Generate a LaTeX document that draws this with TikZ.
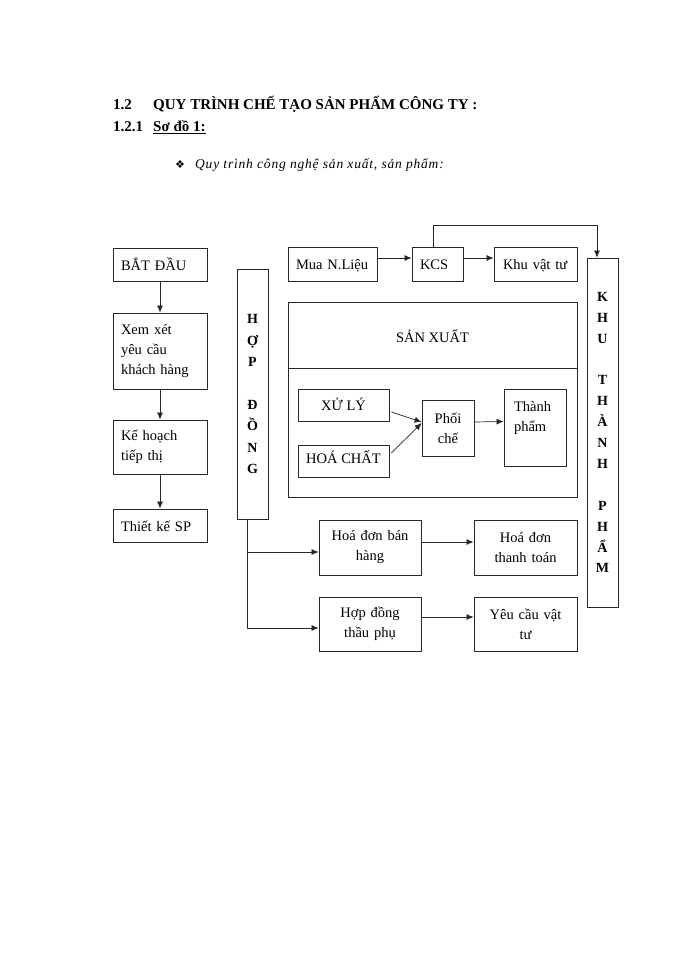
\documentclass[tikz,border=0pt]{standalone}
\usepackage{fontspec}
\setmainfont{Liberation Serif}
\newfontfamily\symfont{DejaVu Sans}
\usetikzlibrary{arrows.meta}
\begin{document}
\begin{tikzpicture}[x=1pt,y=-1pt,
  box/.style={draw=black!85, line width=0.8pt, inner sep=0pt, font=\fontsize{14.5}{20}\selectfont},
  lbox/.style={box, align=left},
  cbox/.style={box, align=center},
  one/.style={text height=13pt, text depth=2pt},
  arr/.style={draw=black!85, line width=0.7pt, -{Latex[length=7pt,width=6pt]}},
  vcol/.style={box, align=center, font=\fontsize{14}{#1}\selectfont\bfseries},
  head/.style={anchor=base west, inner sep=0pt, font=\fontsize{15}{18}\selectfont\bfseries}]
\useasboundingbox (0,0) rectangle (700,960);
\fill[white] (0,0) rectangle (700,960);

% header
\node[head] (n12) at (113,110) {1.2};
\node[head] (t12) at (153,110) {QUY TRÌNH CHẾ TẠO SẢN PHẨM CÔNG TY :};
\node[head] (n121) at (113,132) {1.2.1};
\node[head] (t121) at (153,132) {\underline{Sơ đồ 1:}};
\node[anchor=base west, inner sep=0pt, font=\symfont\fontsize{11}{13}\selectfont] (bul) at (175,169) {❖};
\node[anchor=base west, inner sep=0pt, font=\fontsize{13.5}{16}\selectfont\itshape\addfontfeatures{LetterSpace=6}] (sub) at (195,169) {Quy trình công nghệ sản xuất, sản phẩm:};

% left column
\node[lbox, one, minimum width=94pt, minimum height=33pt, text width=78pt] (start) at (160,264.5) {BẮT ĐẦU};
\node[lbox, minimum width=94pt, minimum height=76pt, text width=78pt] (xem) at (160,351) {Xem xét\\yêu cầu\\khách hàng};
\node[lbox, minimum width=94pt, minimum height=54pt, text width=78pt] (kh) at (160,447) {Kế hoạch\\tiếp thị};
\node[lbox, one, minimum width=94pt, minimum height=33pt, text width=78pt] (tk) at (160,525.5) {Thiết kế SP};

% HOP DONG column
\node[vcol=21.4, minimum width=31pt, minimum height=250pt] (hop) at (252.5,394) {H\\Ợ\\P\\\strut\\Đ\\Ồ\\N\\G};

% top row
\node[lbox, one, minimum width=89pt, minimum height=34pt, text width=73pt] (mua) at (332.5,264) {Mua N.Liệu};
\node[lbox, one, minimum width=51pt, minimum height=34pt, text width=35pt] (kcs) at (437.5,264) {KCS};
\node[lbox, one, minimum width=83pt, minimum height=34pt, text width=65pt] (kvt) at (535.5,264) {Khu vật tư};

% KHU THANH PHAM column
\node[vcol=20.9, minimum width=31pt, minimum height=349pt] (ktp) at (602.5,432.5) {K\\H\\U\\\strut\\T\\H\\À\\N\\H\\\strut\\P\\H\\Ẩ\\M};

% SAN XUAT block
\node[box, minimum width=289pt, minimum height=195pt] (sx) at (432.5,399.5) {};
\node[cbox, minimum width=289pt, minimum height=66pt, text height=17pt, text depth=2pt] (sxh) at (432.5,335) {SẢN XUẤT};
\node[cbox, one, minimum width=91pt, minimum height=32pt] (xl) at (343.5,405) {XỬ LÝ};
\node[cbox, minimum width=91pt, minimum height=32pt, text height=9pt, text depth=4pt] (hc) at (343.5,461) {HOÁ CHẤT};
\node[cbox, minimum width=52pt, minimum height=56pt, text width=44pt] (pc) at (448,428) {Phối\\chế};
\node[box, minimum width=62pt, minimum height=77pt] (tp) at (535,427.5) {\parbox[c][52pt][t]{42pt}{\fontsize{14.5}{20}\selectfont Thành\\phẩm}};

% bottom boxes
\node[cbox, minimum width=102pt, minimum height=55pt, text width=96pt] (hd1) at (370,547.5) {Hoá đơn bán\\hàng};
\node[cbox, minimum width=103pt, minimum height=55pt, text width=96pt] (hd2) at (525.5,547.5) {Hoá đơn\\thanh toán};
\node[cbox, minimum width=102pt, minimum height=54pt, text width=96pt] (hd3) at (370,624) {Hợp đồng\\thầu phụ};
\node[cbox, minimum width=103pt, minimum height=54pt, text width=96pt] (hd4) at (525.5,624) {Yêu cầu vật\\tư};

% connectors
\draw[arr] (start) -- (xem);
\draw[arr] (xem) -- (kh);
\draw[arr] (kh) -- (tk);
\draw[arr] ([xshift=-5.5pt]hop.south) |- ([yshift=-4.5pt]hd1.west);
\draw[arr] ([xshift=-5.5pt]hop.south) |- ([yshift=-4pt]hd3.west);
\draw[arr] ([yshift=5.5pt]hd1.east) -- ([yshift=5.5pt]hd2.west);
\draw[arr] ([yshift=7pt]hd3.east) -- ([yshift=7pt]hd4.west);
\draw[arr] ([yshift=6pt]mua.east) -- ([yshift=6pt]kcs.west);
\draw[arr] ([yshift=6pt]kcs.east) -- ([yshift=6pt]kvt.west);
\draw[arr] ([xshift=-4.5pt]kcs.north) -- ++(0,-21) -| ([xshift=-5.5pt]ktp.north);
\draw[arr] ([xshift=2pt,yshift=-7pt]xl.east) -- ([yshift=6pt]pc.west);
\draw[arr] ([xshift=2pt,yshift=8pt]hc.east) -- ([yshift=5pt]pc.west);
\draw[arr] ([yshift=6pt]pc.east) -- ([yshift=6pt]tp.west);
\end{tikzpicture}
\end{document}
